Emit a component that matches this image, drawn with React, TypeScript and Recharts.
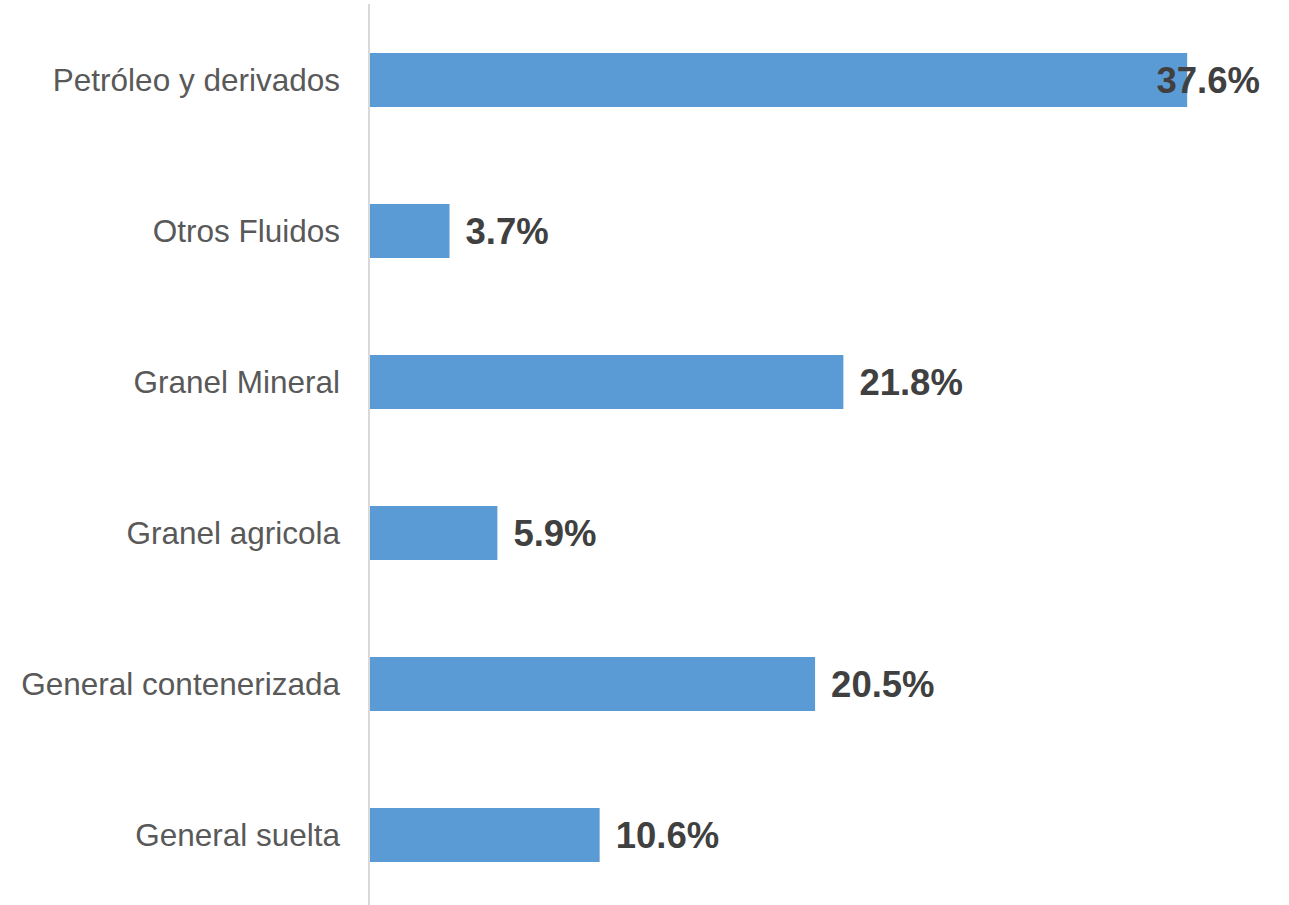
import { BarChart, Bar, XAxis, YAxis, LabelList } from 'recharts';

const categories = [
  'Petróleo y derivados',
  'Otros Fluidos',
  'Granel Mineral',
  'Granel agricola',
  'General contenerizada',
  'General suelta',
];
const shares = [37.6, 3.7, 21.8, 5.9, 20.5, 10.6];

const data = categories.map((name, i) => ({ name, value: shares[i] }));

const CHART_W = 1289;
const MARGIN_RIGHT = 30;
const PLOT_RIGHT = CHART_W - MARGIN_RIGHT;

// Excel-style "outside end" label: pushed back inside when it would overflow the plot
const ValueLabel = (props: any) => {
  const { x, y, width, height, value } = props;
  const text = `${Number(value).toFixed(1)}%`;
  const estWidth = text.length * 20.5;
  const start = x + width + 16;
  const overflow = start + estWidth > PLOT_RIGHT;
  return (
    <text
      x={overflow ? PLOT_RIGHT + 1 : start}
      y={y + height / 2}
      textAnchor={overflow ? 'end' : 'start'}
      dominantBaseline="central"
      fontFamily="'Liberation Sans', Arial, sans-serif"
      fontWeight="bold"
      fontSize={36.5}
      fill="#404040"
    >
      {text}
    </text>
  );
};

export default function App() {
  return (
    <div style={{ position: 'absolute', left: 0, top: 0, width: 1289, height: 905, overflow: 'hidden', background: '#fff' }}>
      <BarChart
        width={CHART_W}
        height={912}
        data={data}
        layout="vertical"
        margin={{ top: 4, right: MARGIN_RIGHT, bottom: 2, left: 0 }}
      >
        <XAxis type="number" domain={[0, 40.9]} hide />
        <YAxis
          type="category"
          dataKey="name"
          width={369}
          axisLine={{ stroke: '#d9d9d9', strokeWidth: 2 }}
          tickLine={false}
          tickSize={0}
          tickMargin={29}
          tick={{ fontSize: 31.5, fill: '#595959', fontFamily: "'Liberation Sans', Arial, sans-serif" }}
          interval={0}
        />
        <Bar dataKey="value" fill="#5b9bd5" barSize={54} isAnimationActive={false}>
          <LabelList dataKey="value" content={ValueLabel} />
        </Bar>
      </BarChart>
    </div>
  );
}
